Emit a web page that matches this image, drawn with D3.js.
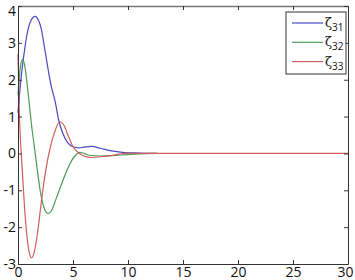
<!DOCTYPE html>
<html>
<head>
<meta charset="utf-8">
<script src="https://cdn.jsdelivr.net/npm/d3@7"></script>
<style>
  body { margin: 0; background: #fff; }
  svg { display: block; }
  .tick text { font-family: "Open Sans", "Liberation Sans", sans-serif; }
</style>
</head>
<body>
<div id="chart"></div>
<script>
// time samples and values
var t31 = [0, 0.3, 0.64, 0.9, 1.2, 1.55, 1.85, 2.1, 2.45, 3.0, 3.4, 3.7, 4.0, 4.5, 5.0, 5.5, 6.0, 6.7, 7.5, 8.5, 9.5, 11, 12.6];
var z31 = [1.1, 2.1, 2.9, 3.35, 3.62, 3.72, 3.62, 3.4, 2.8, 1.85, 1.38, 0.9, 0.6, 0.3, 0.18, 0.15, 0.17, 0.19, 0.14, 0.07, 0.03, 0.01, 0];

var t32 = [0, 0.2, 0.4, 0.6, 0.9, 1.2, 1.5, 1.8, 2.1, 2.4, 2.75, 3.1, 3.5, 4.1, 4.5, 4.9, 5.3, 5.6, 6.0, 6.5, 7.5, 8.5, 9.9, 11, 12.6];
var z32 = [1.6, 2.3, 2.55, 2.4, 1.7, 0.85, 0.15, -0.55, -1.15, -1.5, -1.63, -1.52, -1.2, -0.72, -0.42, -0.18, -0.03, 0.03, 0.0, -0.05, -0.07, -0.06, -0.03, -0.01, 0];

var t33 = [0, 0.1, 0.2, 0.4, 0.6, 0.8, 1.0, 1.24, 1.5, 1.8, 2.15, 2.5, 2.9, 3.3, 3.8, 4.2, 4.6, 5.0, 5.5, 6.0, 6.7, 7.5, 8.4, 9.2, 9.9, 11, 30];
var z33 = [2.7, 1.3, 0.5, -0.5, -1.5, -2.2, -2.65, -2.83, -2.65, -2.1, -1.25, -0.5, 0.12, 0.55, 0.86, 0.75, 0.45, 0.18, 0.02, -0.07, -0.11, -0.09, -0.06, -0.02, 0.01, 0, 0];

var seriesNames = ["31", "32", "33"];
var seriesColors = ["#4a4ac2", "#4f9a58", "#d05c5c"];
var xTicks = [0, 5, 10, 15, 20, 25, 30];
var yTicks = [-3, -2, -1, 0, 1, 2, 3, 4];

var W = 355, H = 280;
var pLeft = 18, pTop = 6, pRight = 348, pBottom = 264;

var svg = d3.select("#chart").append("svg")
    .attr("width", W)
    .attr("height", H);

var x = d3.scaleLinear().domain([0, 30]).range([pLeft, pRight]);
var y = d3.scaleLinear().domain([-3, 4]).range([pBottom, pTop]);

var series = [
    { name: seriesNames[0], color: seriesColors[0], pts: t31.map(function (t, i) { return [t, z31[i]]; }) },
    { name: seriesNames[1], color: seriesColors[1], pts: t32.map(function (t, i) { return [t, z32[i]]; }) },
    { name: seriesNames[2], color: seriesColors[2], pts: t33.map(function (t, i) { return [t, z33[i]]; }) }
];

var line = d3.line()
    .x(function (d) { return x(d[0]); })
    .y(function (d) { return y(d[1]); })
    .curve(d3.curveMonotoneX);

// curves
svg.append("g").selectAll("path")
    .data(series)
    .enter().append("path")
    .attr("d", function (d) { return line(d.pts); })
    .attr("fill", "none")
    .attr("stroke", function (d) { return d.color; })
    .attr("stroke-width", 1.2);

var plain = function (d) { return String(d); };

// axes, ticks pointing inward
var axisB = svg.append("g")
    .attr("transform", "translate(0," + pBottom + ")")
    .call(d3.axisBottom(x).tickValues(xTicks).tickFormat(plain).tickSizeInner(-4).tickSizeOuter(0).tickPadding(3));
var axisT = svg.append("g")
    .attr("transform", "translate(0," + pTop + ")")
    .call(d3.axisTop(x).tickValues(xTicks).tickSizeInner(-4).tickSizeOuter(0).tickFormat(""));
var axisL = svg.append("g")
    .attr("transform", "translate(" + pLeft + ",0)")
    .call(d3.axisLeft(y).tickValues(yTicks).tickFormat(plain).tickSizeInner(-4).tickSizeOuter(0).tickPadding(2));
var axisR = svg.append("g")
    .attr("transform", "translate(" + pRight + ",0)")
    .call(d3.axisRight(y).tickValues(yTicks).tickSizeInner(-4).tickSizeOuter(0).tickFormat(""));

[axisB, axisT, axisL, axisR].forEach(function (a) {
    a.select(".domain").attr("stroke", "#333");
    a.selectAll(".tick line").attr("stroke", "#333");
    a.selectAll("text").style("font-size", "14px").attr("fill", "#111");
});
axisB.selectAll("text").attr("dy", "0.72em");
// keep the end labels inside the picture
axisB.selectAll(".tick text").filter(function (d) { return d === 30; }).attr("dx", -3);
axisL.selectAll(".tick text").filter(function (d) { return d === 4; }).attr("dy", "0.65em");
axisT.select(".domain").attr("stroke", "#777").attr("stroke-width", 1.5);

// legend
var legend = svg.append("g");
legend.append("rect")
    .attr("x", 286).attr("y", 12)
    .attr("width", 60).attr("height", 62)
    .attr("fill", "#fff")
    .attr("stroke", "#333");

series.forEach(function (s, i) {
    var ly = 23 + i * 19.3;
    legend.append("line")
        .attr("x1", 292).attr("x2", 323)
        .attr("y1", ly).attr("y2", ly)
        .attr("stroke", s.color).attr("stroke-width", 1.2);
    var tx = legend.append("text")
        .attr("x", 325).attr("y", ly + 4)
        .style("font-family", "'DejaVu Serif', serif")
        .style("font-size", "13px")
        .attr("fill", "#111");
    tx.append("tspan").text("ζ");
    tx.append("tspan").attr("dy", 4).style("font-size", "10px")
        .style("font-family", "'Open Sans', sans-serif").text(s.name);
});
</script>
</body>
</html>
